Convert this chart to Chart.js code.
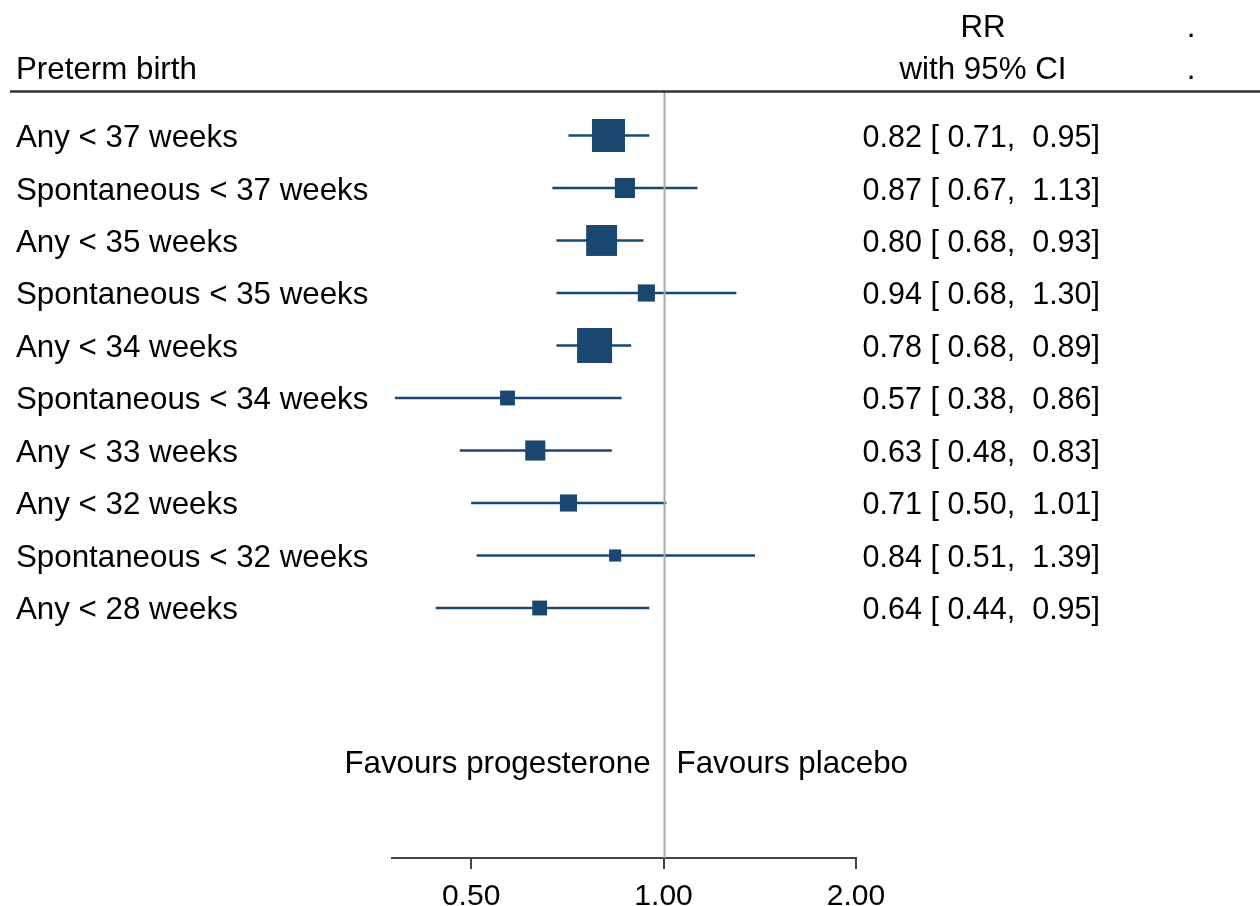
<!DOCTYPE html>
<html>
<head>
<meta charset="utf-8">
<title>Preterm birth forest plot</title>
<script src="https://cdn.jsdelivr.net/npm/chart.js@4.4.1/dist/chart.umd.min.js"></script>
<style>
  html, body { margin: 0; padding: 0; background: #ffffff; }
  #wrap { position: relative; width: 1260px; height: 906px; }
</style>
</head>
<body>
<div id="wrap"><canvas id="forest" width="1260" height="906"></canvas></div>
<script>
// Outcomes and risk ratios (progesterone vs placebo)
const outcomes = [
  "Any < 37 weeks",
  "Spontaneous < 37 weeks",
  "Any < 35 weeks",
  "Spontaneous < 35 weeks",
  "Any < 34 weeks",
  "Spontaneous < 34 weeks",
  "Any < 33 weeks",
  "Any < 32 weeks",
  "Spontaneous < 32 weeks",
  "Any < 28 weeks"
];
const rr     = [0.82, 0.87, 0.80, 0.94, 0.78, 0.57, 0.63, 0.71, 0.84, 0.64];
const ciLow  = [0.71, 0.67, 0.68, 0.68, 0.68, 0.38, 0.48, 0.50, 0.51, 0.44];
const ciHigh = [0.95, 1.13, 0.93, 1.30, 0.89, 0.86, 0.83, 1.01, 1.39, 0.95];
// relative weight of each estimate (box area is proportional to it)
const weights = [89, 33, 78, 24, 100, 18, 33, 24, 12, 18];
const xTicks = [0.5, 1, 2];

const NAVY = "rgb(26,71,111)";
const FONT = "'Liberation Sans', Arial, sans-serif";
const FS_TEXT = 31.3;  // words
const FS_CI = 30.5;    // estimate column
const FS_AXIS = 30;    // axis ticks

function fmt(v) { return v.toFixed(2); }
function ciText(i) {
  return fmt(rr[i]) + " [ " + fmt(ciLow[i]) + ",  " + fmt(ciHigh[i]) + "]";
}

// one short line per confidence interval
const ciSets = outcomes.map((name, i) => ({
  type: "line",
  label: name,
  data: [{ x: ciLow[i], y: i }, { x: ciHigh[i], y: i }],
  borderColor: NAVY,
  borderWidth: 2.5,
  pointRadius: 0,
  fill: false,
  order: 2
}));

// boxes: side grows with sqrt(weight)
const boxSide = weights.map(w => 35 * Math.sqrt(w / 100));
const boxSet = {
  type: "scatter",
  label: "RR",
  data: rr.map((v, i) => ({ x: v, y: i })),
  pointStyle: "rect",
  pointRadius: boxSide.map(s => s / (2 * Math.SQRT1_2)),
  pointBackgroundColor: NAVY,
  pointBorderColor: NAVY,
  pointBorderWidth: 0,
  order: 1
};

const decor = {
  id: "forestDecor",
  afterDatasetsDraw(chart) {
    const ctx = chart.ctx;
    const xs = chart.scales.x;
    const area = chart.chartArea;
    // line of no effect
    const x1 = Math.round(xs.getPixelForValue(1)) + 0.5;
    ctx.save();
    ctx.strokeStyle = "#a9a9a9";
    ctx.lineWidth = 2;
    ctx.beginPath();
    ctx.moveTo(x1, 92);
    ctx.lineTo(x1, area.bottom);
    ctx.stroke();
    ctx.restore();
  },
  afterDraw(chart) {
    const ctx = chart.ctx;
    const xs = chart.scales.x;
    const ys = chart.scales.y;
    const textFont = FS_TEXT + "px " + FONT;
    const ciFont = FS_CI + "px " + FONT;
    ctx.save();
    ctx.fillStyle = "#000000";
    ctx.textBaseline = "alphabetic";

    // header
    ctx.font = textFont;
    ctx.textAlign = "left";
    ctx.fillText("Preterm birth", 16, 79);
    ctx.textAlign = "center";
    ctx.fillText("RR", 983, 37);
    ctx.fillText("with 95% CI", 983, 79);
    ctx.fillText(".", 1191, 37);
    ctx.fillText(".", 1191, 79);

    // header rule
    ctx.strokeStyle = "#333333";
    ctx.lineWidth = 2.5;
    ctx.beginPath();
    ctx.moveTo(10, 91.5);
    ctx.lineTo(1260, 91.5);
    ctx.stroke();

    // rows
    outcomes.forEach((name, i) => {
      const y = ys.getPixelForValue(i) + 11.5;
      ctx.font = textFont;
      ctx.textAlign = "left";
      ctx.fillText(name, 16, y);
      ctx.font = ciFont;
      ctx.textAlign = "right";
      ctx.fillText(ciText(i), 1100, y);
    });

    // direction labels either side of the null line
    const x1 = xs.getPixelForValue(1);
    ctx.font = textFont;
    ctx.textAlign = "right";
    ctx.fillText("Favours progesterone", x1 - 13, 773);
    ctx.textAlign = "left";
    ctx.fillText("Favours placebo", x1 + 13, 773);
    ctx.restore();
  }
};

new Chart(document.getElementById("forest"), {
  data: { datasets: ciSets.concat([boxSet]) },
  options: {
    responsive: false,
    animation: false,
    events: [],
    layout: { padding: { left: 392, right: 404, top: 92, bottom: 0 } },
    plugins: { legend: { display: false }, tooltip: { enabled: false } },
    scales: {
      x: {
        type: "logarithmic",
        position: "bottom",
        min: 0.376,
        max: 2.0,
        afterBuildTicks(scale) { scale.ticks = xTicks.map(v => ({ value: v })); },
        afterFit(scale) { scale.height = 48; },
        ticks: {
          autoSkip: false,
          maxRotation: 0,
          padding: 10,
          color: "#000000",
          font: { family: FONT, size: FS_AXIS },
          callback: v => fmt(v)
        },
        grid: {
          display: true,
          drawOnChartArea: false,
          drawTicks: true,
          tickLength: 11,
          color: "#444444",
          lineWidth: 2
        },
        border: { display: true, color: "#444444", width: 2 }
      },
      y: {
        type: "linear",
        display: false,
        reverse: true,
        min: -0.8286,
        max: 13.762
      }
    }
  },
  plugins: [decor]
});
</script>
</body>
</html>
